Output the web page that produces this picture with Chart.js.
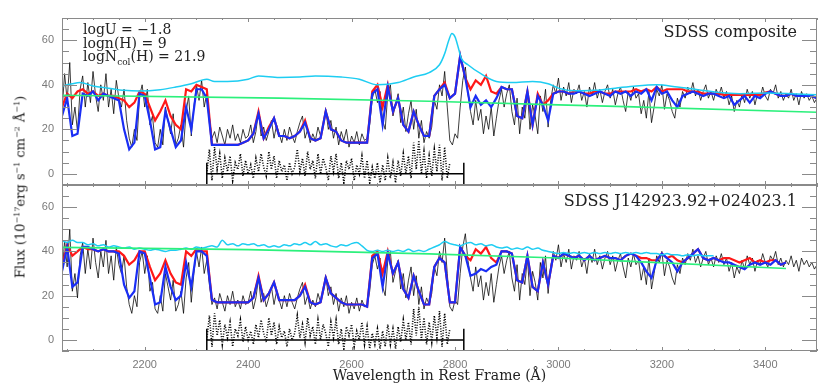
<!DOCTYPE html>
<html>
<head>
<meta charset="utf-8">
<script src="https://cdn.jsdelivr.net/npm/chart.js@4.4.1/dist/chart.umd.min.js"></script>
<style>
  body { margin: 0; background: #fff; }
  #wrap { position: relative; width: 830px; height: 391px; }
  .panel { position: absolute; left: 0; width: 830px; }
  .note { position: absolute; font-family: 'DejaVu Serif', serif; color: #222; white-space: nowrap; }
  .note sub { font-size: 9px; line-height: 0; }
  #ytitle { position: absolute; left: 20px; top: 187px; transform: translate(-50%, -50%) rotate(-90deg);
    font: 13px 'DejaVu Serif', serif; color: #222; white-space: nowrap; }
  #ytitle sup { font-size: 8px; line-height: 0; }
</style>
</head>
<body>
<div id="wrap">
  <div class="panel" style="top:0;height:190px"><canvas id="topChart"></canvas></div>
  <div class="panel" style="top:180px;height:211px"><canvas id="botChart"></canvas></div>
  <div class="note" style="left:83px;top:23px;font-size:14px;line-height:13.5px">logU = −1.8<br>logn(H) = 9<br>logN<sub>col</sub>(H) = 21.9</div>
  <div class="note" style="right:33px;top:24px;font-size:16px;line-height:16px">SDSS composite</div>
  <div class="note" style="right:33px;top:193px;font-size:16px;line-height:16px">SDSS J142923.92+024023.1</div>
  <div id="ytitle">Flux (10<sup>−17</sup>erg s<sup>−1</sup> cm<sup>−2</sup> Å<sup>−1</sup>)</div>
</div>
<script>
// observed spectrum, 5 A steps from 2040 A (same in both panels)
const obsStart = 2040, obsStep = 5;
const obsFlux = [
  28,45,33,50,22,30,19,38,44,30,
  41,32,46,35,28,40,33,45,30,38,
  27,42,34,30,38,24,16,12,20,15,
  35,40,30,38,22,26,14,12,20,13,
  30,24,18,27,13,16,22,12,28,35,
  17,30,40,33,42,30,36,25,16,19,
  14,21,17,13,20,16,22,15,18,14,
  20,16,17,22,14,19,28,17,21,15,
  19,24,16,22,18,14,20,15,21,17,
  14,19,23,26,16,20,14,18,15,21,
  17,22,29,20,24,16,21,13,19,15,
  20,12,17,14,19,13,18,15,16,22,
  34,38,32,37,24,20,36,40,26,31,
  36,23,30,19,27,33,20,29,16,24,
  14,19,16,21,33,29,40,35,46,30,
  15,13,18,16,30,42,48,36,28,22,
  33,24,29,18,26,20,30,17,25,33,
  38,30,36,40,28,22,34,18,30,25,
  37,20,31,26,18,35,28,38,21,33,
  40,36,43,33,39,35,41,32,38,36,
  40,33,37,30,39,35,41,34,38,32,
  37,40,34,38,31,36,39,33,28,37,
  33,39,34,36,27,33,25,37,23,30,
  38,35,40,29,36,33,28,25,34,30,
  37,34,39,36,41,35,38,33,37,40,
  34,37,33,38,35,39,34,37,31,35,
  28,33,30,36,32,38,34,37,31,36,
  34,39,35,33,38,36,40,34,37,33,
  36,34,38,33,36,31,37,34,36,33,
  35,32,34
];

// residuals inside the fit window, 5 A steps from 2320 A
const residStart = 2320, residStep = 5;
const residFlux = [
  0,11,-3,12,2,9,-2,7,1,8,
  -3,5,2,9,-1,6,0,4,-2,7,
  1,9,3,-1,10,2,8,-2,6,1,
  4,-3,5,0,3,11,1,7,-1,10,
  2,6,-2,9,0,7,3,-3,8,1,
  9,-2,5,-4,6,2,7,-3,4,0,
  8,-2,6,-4,3,-2,5,-4,4,-3,
  7,-2,5,-4,6,-1,9,0,8,-2,
  14,2,15,0,10,-2,8,-1,11,1,
  13,-3,12,-2,5
];
const fitWindow = [2320, 2817];
const windowBar = [-5, 5];

// model spectra, 10 A steps from 2040 A
const modelStart = 2040, modelStep = 10;
const blueTop = [
  26,34,17,18,36,35,37,33,36,35,
  34,33,20,11,14,36,35,24,11,12,
  28,20,12,15,30,20,38,38,34,13,
  13,13,13,13,13,14,15,18,27,16,
  20,25,17,17,16,17,19,23,16,15,
  16,28,20,19,15,14,14,14,14,14,
  36,38,22,39,28,34,22,19,28,22,
  17,17,35,38,40,34,36,53,43,30,
  35,31,33,30,34,39,38,38,26,25,
  37,22,35,31,24,36,37,37,36,36,
  37,36,35,36,37,36,35,37,36,37,
  35,37,36,38,33,39,36,37,33,30,
  35,36,37,36,35,36,36,35,34,35,
  31,33,35,32,35,34,36,37,36,35,
  35,36,35,35,35,35,34
];
const redTop = [
  30,36,34,37,38,36,37,35,36,35,
  35,34,33,30,32,37,36,30,24,28,
  33,26,22,20,38,37,40,39,38,13,
  13,13,13,13,13,14,15,18,28,16,
  21,25,17,17,16,17,19,24,16,15,
  16,28,20,19,15,14,14,14,14,14,
  37,40,30,40,28,34,22,19,28,22,
  17,17,35,38,41,34,36,53,43,38,
  42,40,44,37,36,39,38,38,26,25,
  37,22,36,31,33,36,37,37,36,37,
  37,36,36,37,37,36,36,37,37,37,
  37,38,37,38,37,39,37,38,38,38,
  38,37,37,37,36,36,36,36,35.5,35.5,
  35.5,35.5,35.5,35.5,35.5,35.5,36.5,37,36,35,
  35,36,35,35,35,35,34
];
const blueBot = [
  31,42,24,26,42,42,41,40,41,40,
  40,39,25,19,22,40,39,28,16,17,
  33,24,18,20,35,24,40,40,38,18,
  17,17,17,17,17,17,17,19,28,18,
  21,26,18,18,18,18,20,24,17,16,
  17,28,21,19,17,16,16,16,16,15,
  37,39,24,39,30,35,23,19,29,22,
  16,16,33,37,35,17,17,42,38,29,
  30,32,31,33,34,40,40,39,27,26,
  38,24,22,35,25,38,37,39,38,37,
  38,36,38,36,37,38,37,37,36,38,
  39,38,35,31,28,36,39,37,35,31,
  35,37,39,41,37,36,37,36,35,35,
  34,33,32,34,35,34,35,34,36,34,
  35,null,null,null,null,null,null
];
const redBot = [
  33,43,38,40,42,41,41,40,41,40,
  40,40,38,34,36,40,40,33,27,30,
  36,30,26,25,40,38,41,40,40,18,
  17,17,17,17,17,17,17,19,29,18,
  21,26,18,18,18,18,20,25,17,16,
  17,28,21,19,17,16,16,16,16,15,
  38,40,30,40,30,35,23,19,29,22,
  16,16,33,37,35,17,17,42,38,36,
  41,39,42,37,35,40,40,39,27,26,
  38,24,22,35,25,38,37,39,38,37,
  38,36,38,36,37,38,37,37,36,38,
  39,38,37,37,36,36,39,37,38,36,
  35,37,39,41,37,36,37,36,37,37,
  36,35,36,37,35,36,35,36,36,34,
  35,null,null,null,null,null,null
];

// unabsorbed templates
const cyanTopWave = [2040,2060,2075,2100,2130,2160,2190,2230,2260,2290,2320,2335,2360,2400,2420,2460,2500,2530,2580,2615,2650,2690,2720,2750,2770,2780,2788,2794,2800,2806,2812,2825,2850,2880,2910,2950,2980,3000,3030,3070,3110,3150,3190,3230,3270,3310,3350,3400,3450,3500];
const cyanTopFlux = [39.4,40.5,41,39.5,38.5,37.5,37.2,37.8,39,40.5,42.5,41.5,41.5,42.5,44,43.3,43.5,44,43.5,42.5,40,41,43.5,45.5,49,54,60,63,61.5,57,52,49,45,41.5,41,41.5,40.5,38.5,37.3,37.5,38.5,39.5,40,39,37.8,36.5,36,36.3,36,35.5];
const cyanBot = [
  45,44,45,44,44,43,43.5,42.5,43,42,
  42.5,42,41.5,42,41,41.5,41,40.5,41,40.5,
  40,40.5,40.5,41,41.5,41,42,41.5,42,42.5,
  42,45,43,43.5,42.5,43.5,43,43.5,42.5,43,
  42,42.5,42,43,42.5,43.5,43,44,43,44.5,
  43,43.5,42.5,42,43,42.5,43.5,44,42.5,40.5,
  40,40.5,40,40.5,40,40.5,40,41,40,40.5,
  40,41,42,43,44.5,43.5,43,42.5,43.5,44,
  43,43.5,42.5,43,42,41.5,42,41,41.5,41,
  42,41,41.5,40.5,40,39.5,39,39.5,39,39.5,
  39,39.5,39,39.5,39,39.5,39,39.5,39,39.5,
  39,39.5,39,39.5,39,39,38.5,39,38.5,38.5,
  38,38.5,38,38.5,38,38,38
];

// power-law continua
const greenTopWave = [2040,2460,2750,3000,3130,3500];
const greenTopFlux = [35.3,34,32.6,31,30.2,27.7];
const greenBotWave = [2040,2400,2750,3000,3130,3440];
const greenBotFlux = [41.8,40.8,38.9,37,35.6,32.3];

// axes
const xMin = 2040, xMax = 3500, yMin = -5, yMax = 70;
const xTicks = [];
for (let v = 2050; v <= 3500; v += 50) xTicks.push(v);
const yTicks = [];
for (let v = -5; v <= 70; v += 5) yTicks.push(v);

const axisGrey = '#8a8a8a';
const labelGrey = '#7a7a7a';

function series(start, step, vals) {
  return vals.map((v, i) => ({ x: start + i * step, y: v }));
}
function pairs(xs, ys) {
  return xs.map((x, i) => ({ x: x, y: ys[i] }));
}

// IDL style frame with inward ticks on all four sides
const frameTicks = {
  id: 'frameTicks',
  afterDatasetsDraw(chart) {
    const { ctx, chartArea: a, scales } = chart;
    const x = scales.x, y = scales.y;
    ctx.save();
    ctx.strokeStyle = axisGrey;
    ctx.lineWidth = 1;
    ctx.strokeRect(a.left + 0.5, a.top + 0.5, a.right - a.left - 1, a.bottom - a.top - 1);
    ctx.beginPath();
    xTicks.forEach(v => {
      const px = Math.round(x.getPixelForValue(v)) + 0.5;
      const len = v % 200 === 0 ? 4 : 2;
      ctx.moveTo(px, a.bottom); ctx.lineTo(px, a.bottom - len);
      ctx.moveTo(px, a.top); ctx.lineTo(px, a.top + len);
    });
    yTicks.forEach(v => {
      const py = Math.round(y.getPixelForValue(v)) + 0.5;
      const len = v % 20 === 0 ? 15 : 7;
      ctx.moveTo(a.left, py); ctx.lineTo(a.left + len, py);
      ctx.moveTo(a.right, py); ctx.lineTo(a.right - len, py);
    });
    ctx.stroke();
    ctx.restore();
  }
};

function buildDatasets(blue, red, cyanData, greenData) {
  return [
    { data: greenData, borderColor: '#2cf07c', borderWidth: 1.6, order: 1 },
    { data: cyanData, borderColor: '#1ecdf2', borderWidth: 1.5, order: 2, cubicInterpolationMode: 'monotone' },
    { data: series(modelStart, modelStep, blue), borderColor: '#1a2ef5', borderWidth: 2.2, order: 3 },
    { data: series(modelStart, modelStep, red), borderColor: '#ff1818', borderWidth: 2.2, order: 4 },
    { data: pairs(fitWindow, [0, 0]), borderColor: '#000', borderWidth: 1.5, order: 5 },
    { data: pairs([fitWindow[0], fitWindow[0]], windowBar), borderColor: '#000', borderWidth: 1.5, order: 5 },
    { data: pairs([fitWindow[1], fitWindow[1]], windowBar), borderColor: '#000', borderWidth: 1.5, order: 5 },
    { data: series(residStart, residStep, residFlux), borderColor: '#000', borderWidth: 1.6, borderDash: [1, 1.6], order: 6 },
    { data: series(obsStart, obsStep, obsFlux), borderColor: 'rgba(0,0,0,0.85)', borderWidth: 0.9, order: 7 }
  ];
}

function makeOptions(showX, padding) {
  return {
    responsive: true,
    maintainAspectRatio: false,
    animation: false,
    parsing: false,
    layout: { padding: padding },
    elements: { point: { radius: 0 }, line: { tension: 0 } },
    plugins: { legend: { display: false }, tooltip: { enabled: false } },
    scales: {
      x: {
        type: 'linear', min: xMin, max: xMax, display: showX,
        grid: { display: false, drawTicks: false },
        border: { display: false },
        afterBuildTicks: s => { s.ticks = xTicks.map(v => ({ value: v })); },
        afterFit: s => { s.height = showX ? 40 : 0; s.paddingLeft = 0; s.paddingRight = 0; },
        ticks: {
          autoSkip: false, maxRotation: 0, padding: 7, color: labelGrey,
          font: { family: 'Liberation Sans', size: 11 },
          callback: v => (v % 200 === 0 ? String(v) : '')
        },
        title: {
          display: showX, text: 'Wavelength in Rest Frame (Å)', color: '#222',
          font: { family: 'DejaVu Serif', size: 14 }, padding: { top: 0, bottom: 6 }
        }
      },
      y: {
        type: 'linear', min: yMin, max: yMax,
        grid: { display: false, drawTicks: false },
        border: { display: false },
        afterBuildTicks: s => { s.ticks = yTicks.map(v => ({ value: v })); },
        afterFit: s => { s.width = 62; s.paddingTop = 0; s.paddingBottom = 0; },
        ticks: {
          autoSkip: false, padding: 8, color: labelGrey,
          font: { family: 'Liberation Sans', size: 11 },
          callback: v => (v % 20 === 0 ? String(v) : '')
        }
      }
    }
  };
}

new Chart(document.getElementById('topChart'), {
  type: 'line',
  data: { datasets: buildDatasets(blueTop, redTop, pairs(cyanTopWave, cyanTopFlux), pairs(greenTopWave, greenTopFlux)) },
  options: makeOptions(false, { top: 18, right: 13, bottom: 5, left: 0 }),
  plugins: [frameTicks]
});

new Chart(document.getElementById('botChart'), {
  type: 'line',
  data: { datasets: buildDatasets(blueBot, redBot, series(modelStart, modelStep, cyanBot), pairs(greenBotWave, greenBotFlux)) },
  options: makeOptions(true, { top: 5, right: 13, bottom: 0, left: 0 }),
  plugins: [frameTicks]
});
</script>
</body>
</html>
